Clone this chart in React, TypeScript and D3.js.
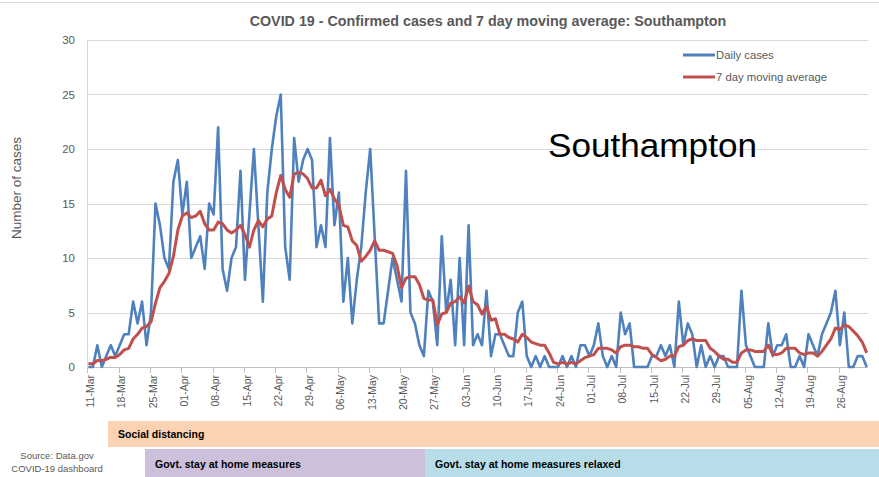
import React from "react";
import * as d3 from "d3";

const title = "COVID 19 - Confirmed cases and 7 day moving average: Southampton";

const dailyCases = [
  0, 0, 2, 0, 1, 2, 1, 2, 3, 3,
  6, 4, 6, 2, 5, 15, 13, 10, 9, 17,
  19, 14, 17, 10, 11, 12, 9, 15, 14, 22,
  9, 7, 10, 11, 18, 8, 14, 20, 13, 6,
  16, 20, 23, 25, 11, 8, 21, 17, 19, 20,
  19, 11, 13, 11, 21, 13, 16, 6, 10, 4,
  8, 11, 16, 20, 12, 4, 4, 7, 10, 8,
  6, 18, 5, 4, 2, 1, 7, 6, 2, 12,
  5, 8, 2, 10, 2, 13, 2, 3, 2, 7,
  1, 3, 3, 2, 1, 1, 5, 6, 1, 0,
  1, 0, 1, 0, 0, 0, 1, 0, 1, 0,
  2, 2, 1, 2, 4, 1, 0, 1, 0, 5,
  3, 4, 0, 0, 0, 0, 1, 1, 2, 1,
  2, 0, 6, 2, 4, 3, 0, 2, 0, 1,
  0, 1, 1, 0, 0, 0, 7, 2, 1, 0,
  0, 0, 4, 1, 2, 2, 3, 0, 0, 1,
  0, 3, 2, 1, 3, 4, 5, 7, 2, 5,
  0, 0, 1, 1, 0,
];

const movingAverage = [
  0.3, 0.3, 0.6, 0.6, 0.7, 0.9, 0.86, 1.14, 1.57, 1.71,
  2.57, 3.0, 3.57, 3.71, 4.14, 5.86, 7.29, 7.86, 8.57, 10.14,
  12.57, 13.86, 14.14, 13.71, 13.86, 14.29, 13.14, 12.57, 12.57, 13.29,
  13.14, 12.57, 12.29, 12.57, 13.0, 12.14, 11.0, 12.57, 13.43, 12.86,
  13.57, 13.86, 16.0, 17.57, 16.29, 15.57, 17.71, 17.86, 17.71, 17.29,
  16.43, 16.43, 17.14, 15.71, 16.29, 15.43, 14.86, 13.0, 12.86, 11.57,
  11.14, 9.71, 10.14, 10.71, 11.57, 10.71, 10.71, 10.57, 10.43, 9.29,
  7.29, 8.14, 8.29, 8.29, 7.57, 6.29, 6.14, 6.14, 3.86, 4.86,
  5.0, 5.86, 6.0, 6.43, 5.86, 7.43, 6.0, 5.71, 4.86, 5.57,
  4.29, 4.43, 3.0, 3.0, 2.71, 2.57, 2.29, 3.0, 2.71, 2.29,
  2.14, 2.0, 2.0, 1.29, 0.43, 0.29, 0.43, 0.29, 0.43, 0.29,
  0.57, 0.86, 1.0, 1.14, 1.71, 1.71, 1.71, 1.57, 1.29, 1.86,
  2.0, 2.0, 1.86, 1.86, 1.71, 1.71, 1.14, 0.86, 0.57, 0.71,
  1.0, 1.0, 1.86, 2.0, 2.43, 2.57, 2.43, 2.43, 2.43, 1.71,
  1.43, 1.0, 0.71, 0.71, 0.43, 0.43, 1.29, 1.57, 1.57, 1.43,
  1.43, 1.43, 2.0, 1.14, 1.14, 1.29, 1.71, 1.71, 1.71, 1.29,
  1.14, 1.29, 1.29, 1.0, 1.43, 2.0, 2.57, 3.57, 3.43, 3.86,
  3.71, 3.29, 2.86, 2.29, 1.29,
];

const tickLabels = [
  "11-Mar", "18-Mar", "25-Mar", "01-Apr", "08-Apr", "15-Apr", "22-Apr", "29-Apr",
  "06-May", "13-May", "20-May", "27-May", "03-Jun", "10-Jun", "17-Jun", "24-Jun",
  "01-Jul", "08-Jul", "15-Jul", "22-Jul", "29-Jul", "05-Aug", "12-Aug", "19-Aug", "26-Aug",
];
const tickEvery = 7;
const yTicks = [0, 5, 10, 15, 20, 25, 30];

const legendItems = ["Daily cases", "7 day moving average"];

const bands = [
  { label: "Social distancing", from: 108, to: 879, row: 0, color: "#FBD3B3" },
  { label: "Govt. stay at home measures", from: 145, to: 425, row: 1, color: "#CCC0DA" },
  { label: "Govt. stay at home measures relaxed", from: 425, to: 879, row: 1, color: "#B7DEE8" },
];

const FONT = "'Liberation Sans', Arial, sans-serif";
const BLUE = "#4F81BD";
const RED = "#C0504D";
const GREY_TEXT = "#595959";

export default function App() {
  const W = 879;
  const H = 477;
  const n = dailyCases.length;
  const x = d3.scaleLinear().domain([0, n - 1]).range([88.4, 88.4 + (n - 1) * 4.473]);
  const y = d3.scaleLinear().domain([0, 30]).range([367, 40]);
  const plotLeft = 87;
  const plotRight = 868;

  const line = d3
    .line<number>()
    .x((_, i) => x(i))
    .y((d) => y(d));

  const tickX = (k: number) => x(k * tickEvery) - 1.1;

  return (
    <svg
      width={W}
      height={H}
      style={{ position: "absolute", left: 0, top: 0, background: "#fff" }}
      fontFamily={FONT}
    >
      <rect x={0} y={0} width={W} height={H} fill="#fff" />
      <line x1={0} x2={W} y1={2.5} y2={2.5} stroke="#d9d9d9" strokeWidth={1} />

      <text
        x={488}
        y={26}
        textAnchor="middle"
        fontSize={14.3}
        fontWeight="bold"
        fill={GREY_TEXT}
      >
        {title}
      </text>

      {/* gridlines */}
      {yTicks.map((t) => (
        <line
          key={"g" + t}
          x1={plotLeft}
          x2={plotRight}
          y1={Math.round(y(t)) + 0.5}
          y2={Math.round(y(t)) + 0.5}
          stroke={t === 0 ? "#bfbfbf" : "#d9d9d9"}
          strokeWidth={1}
        />
      ))}
      <line x1={plotLeft + 0.5} x2={plotLeft + 0.5} y1={y(30)} y2={y(0)} stroke="#d9d9d9" />

      {/* y tick labels */}
      {yTicks.map((t) => (
        <text
          key={"yl" + t}
          x={75}
          y={y(t)}
          dy="0.35em"
          textAnchor="end"
          fontSize={11.5}
          fill={GREY_TEXT}
        >
          {t}
        </text>
      ))}
      <text
        transform={`translate(21,188) rotate(-90)`}
        textAnchor="middle"
        fontSize={13.5}
        fill={GREY_TEXT}
      >
        Number of cases
      </text>

      {/* x ticks */}
      {tickLabels.map((lab, k) => (
        <g key={"xt" + k}>
          <line
            x1={Math.round(tickX(k)) + 0.5}
            x2={Math.round(tickX(k)) + 0.5}
            y1={367}
            y2={373}
            stroke="#bfbfbf"
          />
          <text
            transform={`translate(${tickX(k) + 3},375) rotate(-90)`}
            textAnchor="end"
            dy="0.35em"
            fontSize={10.5}
            fill={GREY_TEXT}
          >
            {lab}
          </text>
        </g>
      ))}

      {/* series */}
      <path
        d={line(dailyCases) || ""}
        fill="none"
        stroke={BLUE}
        strokeWidth={2.6}
        strokeLinejoin="round"
      />
      <path
        d={line(movingAverage) || ""}
        fill="none"
        stroke={RED}
        strokeWidth={3}
        strokeLinejoin="round"
      />

      {/* legend */}
      {legendItems.map((lab, i) => (
        <g key={"lg" + i} transform={`translate(683,${55 + i * 22})`}>
          <line x1={0} x2={32} y1={0} y2={0} stroke={i === 0 ? BLUE : RED} strokeWidth={3} />
          <text x={33} y={0} dy="0.35em" fontSize={11.3} fill={GREY_TEXT}>
            {lab}
          </text>
        </g>
      ))}

      <text x={548} y={157} fontSize={33} fill="#000" textLength={209} lengthAdjust="spacingAndGlyphs">
        Southampton
      </text>

      {/* bands */}
      {bands.map((b) => (
        <g key={b.label}>
          <rect
            x={b.from}
            y={b.row === 0 ? 421 : 449}
            width={b.to - b.from}
            height={b.row === 0 ? 26 : 28}
            fill={b.color}
          />
          <text
            x={b.from + 10}
            y={b.row === 0 ? 434 : 464}
            dy="0.35em"
            fontSize={10.5}
            fontWeight="bold"
            fill="#000"
          >
            {b.label}
          </text>
        </g>
      ))}

      <text x={57} y={456} dy="0.35em" textAnchor="middle" fontSize={9.5} fill={GREY_TEXT}>
        Source: Data.gov
      </text>
      <text x={57} y={469} dy="0.35em" textAnchor="middle" fontSize={9.5} fill={GREY_TEXT}>
        COVID-19 dashboard
      </text>
    </svg>
  );
}
